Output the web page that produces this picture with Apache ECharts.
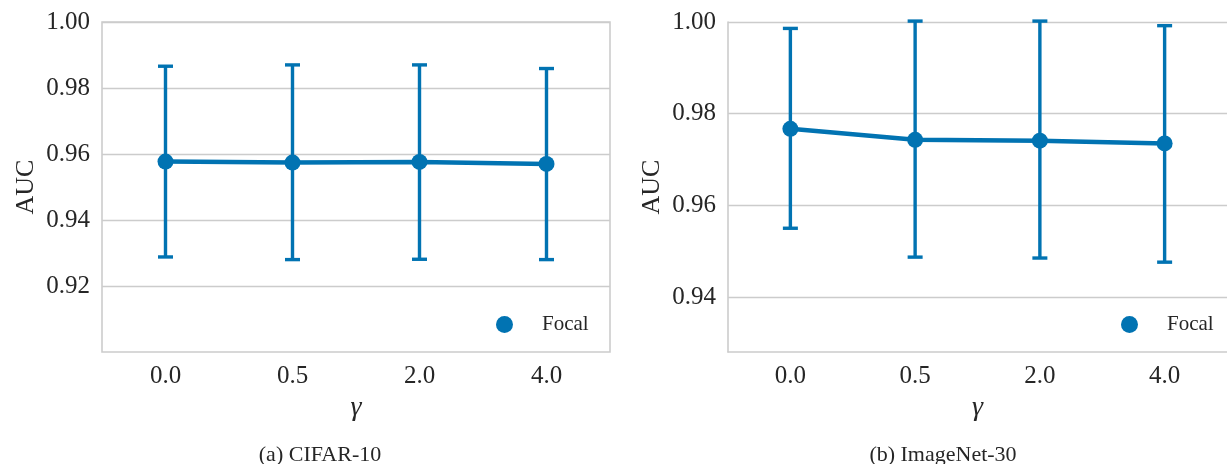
<!DOCTYPE html>
<html>
<head>
<meta charset="utf-8">
<script src="https://cdn.jsdelivr.net/npm/echarts@6/dist/echarts.min.js"></script>
<style>
html,body{margin:0;padding:0;background:#fff;}
#chart{width:1227px;height:464px;}
</style>
</head>
<body>
<div id="chart"></div>
<script>
const categories = ['0.0', '0.5', '2.0', '4.0'];
const cifarMean = [0.9577, 0.9574, 0.9576, 0.9570];
const cifarLow  = [0.9288, 0.9280, 0.9281, 0.9280];
const cifarHigh = [0.9866, 0.9870, 0.9870, 0.9859];
const imnMean = [0.9767, 0.9743, 0.9741, 0.9735];
const imnLow  = [0.9550, 0.9487, 0.9485, 0.9476];
const imnHigh = [0.9986, 1.0002, 1.0002, 0.9992];
const cifarTicks = [0.92, 0.94, 0.96, 0.98, 1.00];
const imnTicks = [0.94, 0.96, 0.98, 1.00];
const captions = ['(a) CIFAR-10', '(b) ImageNet-30'];
const xName = 'γ';
const yName = 'AUC';
const seriesName = 'Focal';

const BLUE = '#0173b2';
const TXT = '#262626';
const GRIDC = '#cccccc';
const FONT = '"Liberation Serif", "DejaVu Serif", serif';

function errData(lo, hi) {
  return categories.map((c, i) => [i, lo[i], hi[i]]);
}
function renderErr(params, api) {
  const x = api.value(0);
  const lo = api.coord([x, api.value(1)]);
  const hi = api.coord([x, api.value(2)]);
  const hw = 7.5;
  const st = { stroke: BLUE, lineWidth: 3.4 };
  return {
    type: 'group',
    children: [
      { type: 'line', shape: { x1: lo[0], y1: lo[1], x2: hi[0], y2: hi[1] }, style: st },
      { type: 'line', shape: { x1: lo[0] - hw, y1: lo[1], x2: lo[0] + hw, y2: lo[1] }, style: st },
      { type: 'line', shape: { x1: hi[0] - hw, y1: hi[1], x2: hi[0] + hw, y2: hi[1] }, style: st }
    ]
  };
}

function xAxis(idx, showLine) {
  return {
    type: 'category', gridIndex: idx, data: categories, boundaryGap: true,
    axisLine: { show: showLine, lineStyle: { color: GRIDC, width: 1.6 } }, axisTick: { show: false },
    axisLabel: { color: TXT, fontFamily: FONT, fontSize: 25, margin: 12 },
    name: xName, nameLocation: 'middle', nameGap: 38,
    nameTextStyle: { color: TXT, fontFamily: FONT, fontSize: 28, fontStyle: 'italic' },
    splitLine: { show: false }
  };
}
function yAxis(idx, min, ticks, showLine) {
  return {
    type: 'value', gridIndex: idx, min: min, max: 1.0,
    axisLine: { show: showLine, lineStyle: { color: GRIDC, width: 1.6 } },
    axisTick: { show: false, customValues: ticks },
    axisLabel: { color: TXT, fontFamily: FONT, fontSize: 25, margin: 12, customValues: ticks,
      formatter: v => v.toFixed(2) },
    splitLine: { show: true, lineStyle: { color: GRIDC, width: 1.3 } },
    name: yName, nameLocation: 'middle', nameRotate: 90, nameGap: 63,
    nameTextStyle: { color: TXT, fontFamily: FONT, fontSize: 26 }
  };
}
function legend(idx, left) {
  return {
    show: true, data: [{ name: seriesName, icon: 'circle' }], left: left, top: 309,
    orient: 'vertical', itemWidth: 17, itemHeight: 17, selectedMode: false,
    textStyle: { color: TXT, fontFamily: FONT, fontSize: 21, padding: [0, 0, 0, 24] }
  };
}

const option = {
  animation: false,
  backgroundColor: '#fff',
  grid: [
    { left: 102, top: 22, width: 508, height: 330, show: true, borderColor: GRIDC, borderWidth: 1.6, backgroundColor: 'transparent' },
    { left: 728, top: 22, width: 508, height: 330, show: false }
  ],
  xAxis: [xAxis(0, false), xAxis(1, true)],
  yAxis: [yAxis(0, 0.90, cifarTicks, false), yAxis(1, 0.928, imnTicks, true)],
  legend: [legend(0, 491), legend(1, 1116)],
  title: [
    { text: captions[0], left: 315, top: 439, textAlign: 'center',
      textStyle: { color: TXT, fontFamily: FONT, fontSize: 22, fontWeight: 'normal' } },
    { text: captions[1], left: 938, top: 439, textAlign: 'center',
      textStyle: { color: TXT, fontFamily: FONT, fontSize: 22, fontWeight: 'normal' } }
  ],
  series: [
    { type: 'custom', name: seriesName, xAxisIndex: 0, yAxisIndex: 0, data: errData(cifarLow, cifarHigh),
      renderItem: renderErr, itemStyle: { color: BLUE }, z: 2, silent: true },
    { type: 'line', name: seriesName, xAxisIndex: 0, yAxisIndex: 0, data: cifarMean,
      symbol: 'circle', symbolSize: 16, itemStyle: { color: BLUE }, lineStyle: { color: BLUE, width: 4.5 }, z: 3 },
    { type: 'custom', name: seriesName, xAxisIndex: 1, yAxisIndex: 1, data: errData(imnLow, imnHigh),
      renderItem: renderErr, itemStyle: { color: BLUE }, z: 2, silent: true },
    { type: 'line', name: seriesName, xAxisIndex: 1, yAxisIndex: 1, data: imnMean,
      symbol: 'circle', symbolSize: 16, itemStyle: { color: BLUE }, lineStyle: { color: BLUE, width: 4.5 }, z: 3 }
  ]
};
const chart = echarts.init(document.getElementById('chart'), null, { renderer: 'canvas' });
chart.setOption(option);
</script>
</body>
</html>
